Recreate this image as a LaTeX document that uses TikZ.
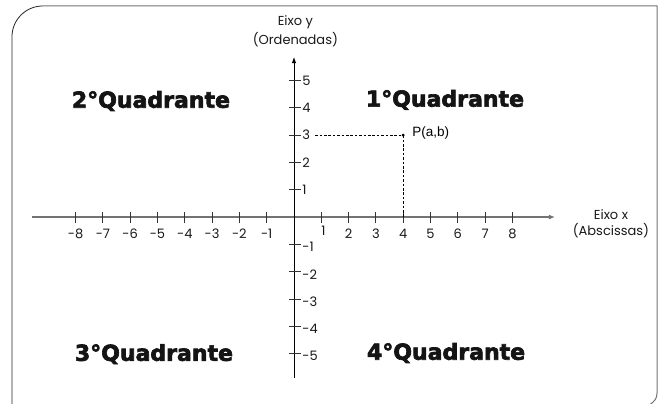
\documentclass[tikz,border=0pt]{standalone}
\usepackage{fontspec}
\usepackage{tikz}
\usetikzlibrary{arrows.meta,positioning,calc}
\newfontfamily\quadfont[FakeBold=3]{DejaVu Sans Bold}
\newfontfamily\axfont{Poppins}
\newfontfamily\ptfont{Liberation Sans}

\tikzset{
  quadlabel/.style={font=\quadfont\fontsize{22}{26}\selectfont, text=black!92, inner sep=0pt},
  axlabel/.style={font=\axfont\fontsize{13}{15}\selectfont, text=black!90, inner sep=0pt},
  ticklabel/.style={font=\axfont\fontsize{13}{15}\selectfont, text=black!90, inner sep=0pt},
  tickmark/.style={black!80, line width=0.8pt},
  guide/.style={black, dash pattern=on 2.6pt off 1.8pt, line width=0.7pt}
}

\begin{document}
\begin{tikzpicture}[x=27.3pt, y=27.3pt]
  \useasboundingbox (-10.769,-6.813) rectangle (13.553,7.949);
  % frame
  \draw[black!85, line width=0.8pt] (-10.33,-6.9) -- (-10.33,6.6) arc[start angle=180, end angle=90, radius=1.13];
  \draw[black!55, line width=1pt] (-9.2,7.73) -- (13.297,7.73) -- (13.297,-6.45)
    .. controls (13.297,-6.65) and (13.2,-6.75) .. (13.06,-6.85);
  % axes
  \coordinate (xs) at (-9.597,0);
  \coordinate (xe) at (9.56,0);
  \coordinate (ys) at (0,-5.897);
  \coordinate (ye) at (0,5.861);
  \draw[black!55, line width=1.5pt, -{Latex[length=6pt,width=5pt]}] (xs) -- (xe);
  \draw[black, line width=0.9pt, -{Latex[length=6pt,width=4.5pt]}] (ys) -- (ye);
  % ticks
  \foreach \i in {-8,...,-1,1,2,...,8} {
    \draw[tickmark] (\i,0.18) -- (\i,-0.22);
  }
  \foreach \i in {-5,...,-1,1,2,...,5} {
    \draw[tickmark] (-0.2,\i) -- (0.24,\i);
  }
  \foreach \i in {-8,...,-1,2,3,...,8} {
    \node[ticklabel] at (\i,-0.6) {\i};
  }
  \node[ticklabel] (one) at (1.08,-0.5) {1};
  \foreach \i in {1,...,5} {
    \node[ticklabel, anchor=west] at (0.3,\i) {\i};
  }
  \foreach \i in {-5,...,-1} {
    \node[ticklabel, anchor=west] at (0.3,\i-0.1) {\i};
  }
  % axis names
  \node[axlabel] (ey) at (0.05,7.14) {Eixo y};
  \node[axlabel, below=3pt of ey] {(Ordenadas)};
  \node[axlabel] (ex) at (11.61,0.07) {Eixo x};
  \node[axlabel, below=3pt of ex] {(Abscissas)};
  % point P
  \coordinate (p) at (4,3);
  \coordinate (py) at (0.78,3);
  \coordinate (px) at (4,0);
  \draw[guide] (py) -- (p);
  \draw[guide] (p) -- (px);
  \fill (p) circle (1.6pt);
  \node[font=\ptfont\fontsize{13.5}{15}\selectfont, anchor=west, inner sep=0pt] (plabel) at (4.33,3.08) {P(a,b)};
  % quadrants
  \node[quadlabel] (q1) at (5.53,4.29) {1°Quadrante};
  \node[quadlabel] (q2) at (-5.24,4.25) {2°Quadrante};
  \node[quadlabel] (q3) at (-5.13,-5.02) {3°Quadrante};
  \node[quadlabel] (q4) at (5.57,-4.98) {4°Quadrante};
\end{tikzpicture}
\end{document}
